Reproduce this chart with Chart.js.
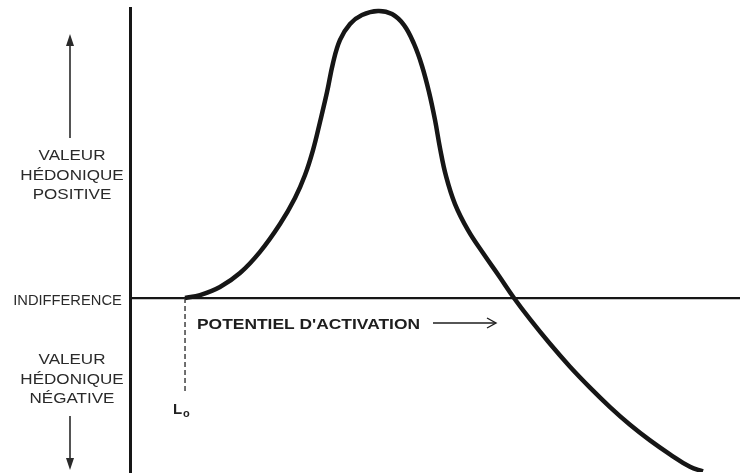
<!DOCTYPE html>
<html>
<head>
<meta charset="utf-8">
<script src="https://cdn.jsdelivr.net/npm/chart.js@4"></script>
<style>
html,body{margin:0;padding:0;background:#fff;}
#wrap{width:740px;height:475px;position:relative;}
</style>
</head>
<body>
<div id="wrap"><canvas id="c"></canvas></div>
<script>
// Activation potential (x) and hedonic value (y)
const curveX = [9.02, 11.48, 14.75, 18.03, 21.31, 24.59, 27.05, 28.69, 30.0, 31.15, 32.30, 33.28, 34.43, 36.07, 38.03, 40.66, 42.95, 44.92, 46.56, 47.87, 49.02, 50.0, 50.82, 51.80, 53.28, 55.41, 57.87, 60.49, 62.95, 65.57, 68.85, 72.13, 75.41, 78.69, 81.97, 85.25, 88.52, 91.80, 93.93];
const curveY = [0.0, 0.10, 0.38, 0.86, 1.59, 2.55, 3.45, 4.24, 5.10, 6.07, 7.10, 8.10, 8.90, 9.45, 9.76, 9.90, 9.79, 9.41, 8.76, 8.00, 7.10, 6.14, 5.17, 4.21, 3.24, 2.34, 1.55, 0.76, 0.0, -0.73, -1.58, -2.37, -3.09, -3.76, -4.37, -4.91, -5.39, -5.82, -5.98];
const thresholdX = [9.02, 9.02];
const thresholdY = [0.0, -3.3];
const labelsPositive = ["VALEUR", "HÉDONIQUE", "POSITIVE"];
const labelsNegative = ["VALEUR", "HÉDONIQUE", "NÉGATIVE"];
const labelZero = "INDIFFERENCE";
const labelAxisX = "POTENTIEL D'ACTIVATION";

const ink = '#161616';

function stretchText(ctx, text, x, y, sx) {
  ctx.save();
  ctx.translate(x, y);
  ctx.scale(sx, 1);
  ctx.fillText(text, 0, 0);
  ctx.restore();
}

const textPlugin = {
  id: 'texts',
  afterDraw(chart) {
    const ctx = chart.ctx;
    ctx.save();
    ctx.fillStyle = '#2a2a2a';
    ctx.strokeStyle = '#2a2a2a';
    ctx.textAlign = 'center';
    ctx.textBaseline = 'middle';
    ctx.font = '15.5px "Liberation Sans", Arial, sans-serif';
    labelsPositive.forEach((t, i) => stretchText(ctx, t, 72, 156 + i * 19.5, 1.1));
    labelsNegative.forEach((t, i) => stretchText(ctx, t, 72, 360 + i * 19.5, 1.1));
    ctx.font = '14px "Liberation Sans", Arial, sans-serif';
    stretchText(ctx, labelZero, 67.5, 301, 1.05);
    // vertical arrows
    ctx.lineWidth = 1.6;
    ctx.beginPath(); ctx.moveTo(70, 138); ctx.lineTo(70, 40); ctx.stroke();
    ctx.beginPath(); ctx.moveTo(70, 34); ctx.lineTo(66, 46); ctx.lineTo(74, 46); ctx.closePath(); ctx.fill();
    ctx.beginPath(); ctx.moveTo(70, 416); ctx.lineTo(70, 463); ctx.stroke();
    ctx.beginPath(); ctx.moveTo(70, 470); ctx.lineTo(66, 458); ctx.lineTo(74, 458); ctx.closePath(); ctx.fill();
    // x label with arrow
    ctx.fillStyle = '#1e1e1e';
    ctx.strokeStyle = '#1e1e1e';
    ctx.textAlign = 'left';
    ctx.font = 'bold 15px "Liberation Sans", Arial, sans-serif';
    const w = ctx.measureText(labelAxisX).width;
    stretchText(ctx, labelAxisX, 197, 325, 223 / w);
    ctx.lineWidth = 1.4;
    ctx.beginPath(); ctx.moveTo(433, 323); ctx.lineTo(495, 323); ctx.stroke();
    ctx.beginPath(); ctx.moveTo(487, 318); ctx.lineTo(496, 323); ctx.lineTo(487, 328); ctx.stroke();
    // L0 label
    ctx.fillStyle = '#222';
    ctx.font = 'bold 15px "Liberation Sans", Arial, sans-serif';
    ctx.fillText('L', 173, 410);
    ctx.font = 'bold 11px "Liberation Sans", Arial, sans-serif';
    ctx.fillText('o', 183, 414);
    ctx.restore();
  }
};

new Chart(document.getElementById('c'), {
  type: 'scatter',
  data: {
    datasets: [
      {
        data: curveX.map((x, i) => ({x, y: curveY[i]})),
        showLine: true,
        borderColor: ink,
        borderWidth: 4.5,
        pointRadius: 0,
        tension: 0.4,
        fill: false
      },
      {
        data: thresholdX.map((x, i) => ({x, y: thresholdY[i]})),
        showLine: true,
        borderColor: '#333',
        borderWidth: 1.4,
        borderDash: [5, 3],
        pointRadius: 0,
        fill: false
      }
    ]
  },
  options: {
    responsive: true,
    maintainAspectRatio: false,
    animation: false,
    layout: { padding: { left: 130, right: 0, top: 8, bottom: 3 } },
    plugins: { legend: { display: false }, tooltip: { enabled: false } },
    scales: {
      x: {
        type: 'linear', min: 0, max: 100,
        position: { y: 0 },
        ticks: { display: false },
        grid: { display: false, drawTicks: false },
        border: { display: true, color: ink, width: 2.2 }
      },
      y: {
        type: 'linear', min: -6, max: 10,
        ticks: { display: false },
        grid: { display: false, drawTicks: false },
        border: { display: true, color: ink, width: 3 }
      }
    }
  },
  plugins: [textPlugin]
});
</script>
</body>
</html>
